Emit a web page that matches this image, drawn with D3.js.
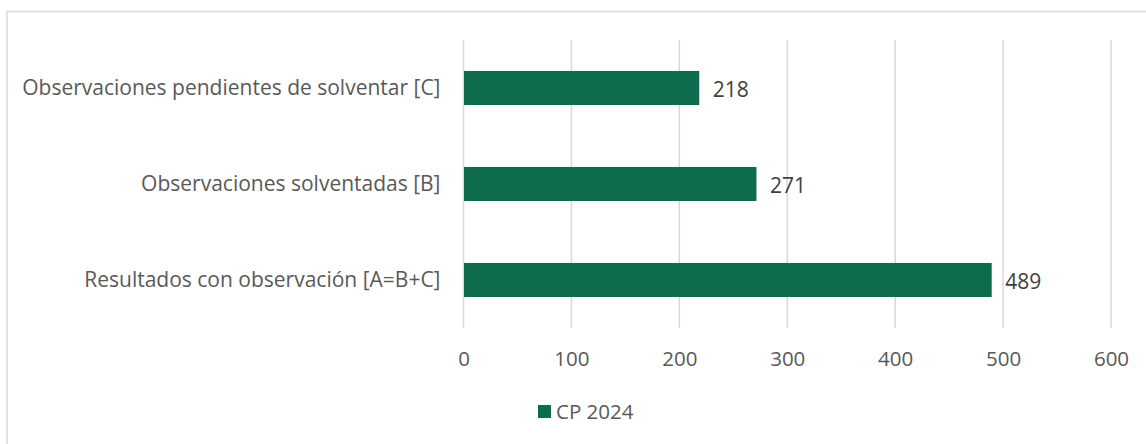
<!DOCTYPE html>
<html>
<head>
<meta charset="utf-8">
<script src="https://cdn.jsdelivr.net/npm/d3@7"></script>
<style>
  body { margin: 0; background: #fff; }
  svg { display: block; font-family: "Open Sans", "Noto Sans", sans-serif; }
</style>
</head>
<body>
<div id="chart"></div>
<script>
// data
var categories = ["Observaciones pendientes de solventar [C]", "Observaciones solventadas [B]", "Resultados con observación [A=B+C]"];
var values = [218, 271, 489];
var xTicks = [0, 100, 200, 300, 400, 500, 600];
var seriesName = "CP 2024";

var width = 1146, height = 444;
var margin = {top: 40, right: 35, bottom: 116, left: 463.5};
var barColor = "#0e6b4e";
var fontSize = "20.5px";

var svg = d3.select("#chart")
  .append("svg")
  .attr("width", width)
  .attr("height", height);

// chart border (only top and left are inside the picture)
svg.append("rect")
  .attr("x", 7)
  .attr("y", 11.5)
  .attr("width", width)
  .attr("height", height)
  .style("fill", "none")
  .style("stroke", "#d9d9d9")
  .style("stroke-width", 1.5);

var x = d3.scaleLinear()
  .domain([0, 600])
  .range([margin.left, margin.left + 647.5]);

var y = d3.scaleBand()
  .domain(categories)
  .range([margin.top, height - margin.bottom])
  .paddingInner(0.645)
  .paddingOuter(0.3225);

// gridlines
svg.append("g")
  .selectAll("line")
  .data(xTicks)
  .enter()
  .append("line")
  .attr("x1", function(d) { return x(d); })
  .attr("x2", function(d) { return x(d); })
  .attr("y1", margin.top)
  .attr("y2", height - margin.bottom)
  .style("stroke", "#d9d9d9")
  .style("stroke-width", 1.5);

// x axis labels
var xAxis = d3.axisBottom(x).tickValues(xTicks).tickSize(0).tickPadding(23);
var gx = svg.append("g")
  .attr("transform", "translate(0," + (height - margin.bottom) + ")")
  .call(xAxis);
gx.select(".domain").remove();
gx.selectAll("text")
  .style("font-size", fontSize)
  .style("font-family", "Open Sans, sans-serif")
  .style("fill", "#595959");

// category labels
var yAxis = d3.axisLeft(y).tickSize(0).tickPadding(23);
var gy = svg.append("g")
  .attr("transform", "translate(" + margin.left + ",0)")
  .call(yAxis);
gy.select(".domain").remove();
gy.selectAll("text")
  .style("font-size", "21px")
  .style("font-family", "Open Sans, sans-serif")
  .style("fill", "#595959");

// bars
svg.append("g")
  .selectAll("rect")
  .data(values)
  .enter()
  .append("rect")
  .attr("x", x(0) + 0.5)
  .attr("y", function(d, i) { return y(categories[i]); })
  .attr("width", function(d) { return x(d) - x(0); })
  .attr("height", y.bandwidth())
  .style("fill", barColor);

// data labels
svg.append("g")
  .selectAll("text")
  .data(values)
  .enter()
  .append("text")
  .attr("x", function(d) { return x(d) + 14; })
  .attr("y", function(d, i) { return y(categories[i]) + y.bandwidth() / 2 + 2; })
  .attr("dy", "0.35em")
  .style("font-size", "21px")
  .style("fill", "#404040")
  .text(function(d) { return d; });

// legend
var legend = svg.append("g").attr("transform", "translate(538,405)");
legend.append("rect")
  .attr("width", 13)
  .attr("height", 13)
  .style("fill", barColor);
legend.append("text")
  .attr("x", 18)
  .attr("y", 6.5)
  .attr("dy", "0.35em")
  .style("font-size", fontSize)
  .style("fill", "#595959")
  .text(seriesName);
</script>
</body>
</html>
